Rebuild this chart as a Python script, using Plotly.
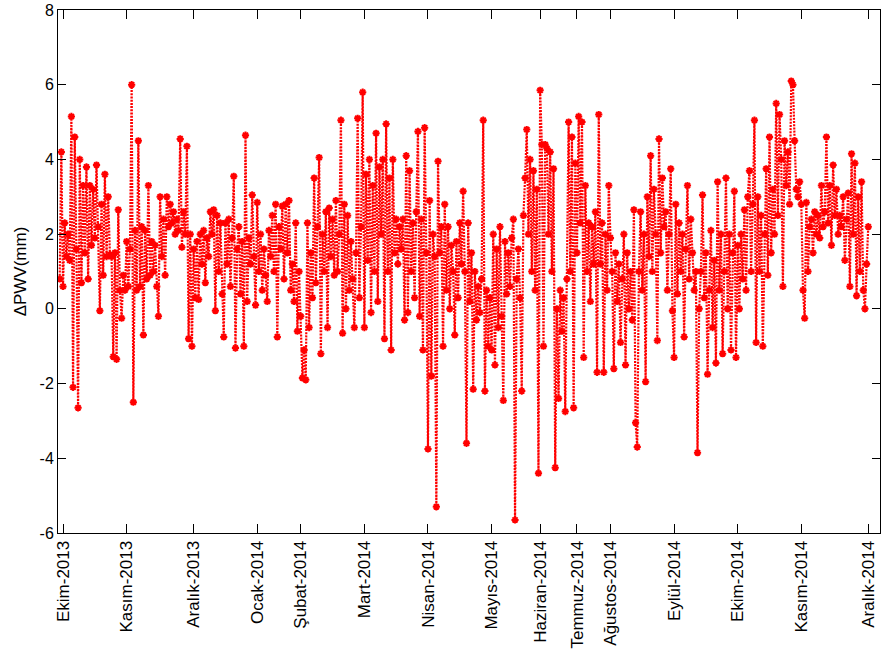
import plotly.graph_objects as go

# Delta PWV (mm) values, grouped by the month they fall in
pre_oct_2013 = [0.8, 4.2]
ekim_2013 = [0.6, 2.3, 1.4, 2.0, 1.3, 5.15, -2.1, 4.6, 1.6, -2.65, 4.0, 0.7, 3.3, 1.5, 3.8, 0.8, 3.3, 1.7, 3.2,
             1.9, 3.85, 2.2, -0.05, 2.8, 0.9, 3.6, 1.4, 3.0, 1.45, 1.4, -1.28, 1.5, -1.35, 2.65, 0.5, -0.25, 0.9, 0.5]
kasim_2013 = [1.8, 0.6, 1.6, 6.0, -2.5, 2.1, 0.5, 4.5, 0.6, 2.2, -0.7, 2.1, 0.8, 3.3, 0.9, 1.8, 1.0, 1.7, 0.6, -0.2,
              3.0, 1.4, 2.4, 0.9, 3.0, 2.2, 2.8, 2.3, 2.6, 2.0, 2.4, 2.1, 4.55, 1.65, 2.6, 2.0, 4.35, -0.8, 2.0, -1.0]
aralik_2013 = [1.6, 0.3, 1.8, 0.25, 2.0, 1.2, 2.1, 0.7, 1.9, 1.4, 2.6, 2.0, 2.65, -0.05, 2.5, 1.0, 2.3, 0.4, -0.75,
               2.3, 1.2, 2.4, 0.6, 1.9, 3.55, -1.05, 1.6, 2.2, 0.4, 1.8, -1.0, 4.65, 0.2, 1.9, 1.2, 3.05, 1.4, 0.1]
ocak_2014 = [2.85, 1.0, 2.0, 0.5, 1.6, 0.9, 0.2, 2.1, 1.4, 2.5, 1.0, 2.8, -0.75, 2.2, 1.6, 2.75, 0.8, 2.8, 1.5,
             2.9, 0.5, 1.2, 0.2, 2.3, -0.6, 1.0]
subat_2014 = [-0.2, -1.85, -1.1, -1.9, 2.3, -0.5, 1.5, 0.3, 3.5, 0.7, 2.2, 4.05, -1.2, 2.0, 1.0, 2.6, -0.5, 2.7,
              1.4, 2.4, 0.9, 2.9, 1.0, 2.0, 5.05, -0.65, 2.8, 0.0, 2.5, 0.5, 1.8, 0.8, -0.5, 1.5, 5.1, 0.3, 2.2, 5.8]
mart_2014 = [-0.5, 3.6, 1.3, 4.0, -0.1, 3.3, 1.0, 4.7, 0.2, 3.8, 2.0, 4.0, -0.8, 4.95, 1.0, 3.5, -1.1, 4.0, 1.5,
             2.4, 1.2, 2.2, 1.6, 2.4, -0.3, 4.1, -0.1, 3.7, 1.0, 2.3, 0.3, 2.6, 4.75, -0.2, 2.4, -1.1, 4.85, 1.5]
nisan_2014 = [-3.75, 2.9, -1.8, 2.0, 1.4, -5.3, 3.95, 1.5, 2.2, -1.0, 2.8, 0.5, 2.2, 0.0, 1.7, 1.0, -0.7, 1.8,
              0.3, 2.3, 1.2, 3.15, 1.0, -3.6, 2.3, 0.2, 1.5, -2.15, 1.0, -0.3, 0.6, -0.1, 0.8, 5.05, -2.2, 0.5,
              -1.0, 0.3]
mayis_2014 = [-1.1, 2.0, -1.5, 1.6, -0.5, 2.2, -0.2, -2.45, 1.8, 0.4, 1.5, 0.6, 1.9, 2.4, -5.65, 0.8, 1.6, 0.3,
              -2.2, 2.5, 3.5, 4.8, 2.0, 4.0, 1.0, 3.7, 0.5, 3.2, -4.4]
haziran_2014 = [5.85, 4.4, -1.0, 4.4, 4.3, 2.0, 4.2, 1.0, 3.75, -4.25, 0.0, -2.4, 0.5, -0.6, 0.3, -2.75, 0.8,
                5.0, 1.0, 4.6, -2.65, 3.9]
temmuz_2014 = [1.5, 5.15, 2.3, 5.0, -1.3, 3.3, 1.0, 2.3, 0.2, 2.2, 1.2, 2.6, -1.7, 5.2, 1.2, 2.3, -1.7, 2.0,
               0.5, 3.3]
agustos_2014 = [1.9, 1.0, -1.6, 1.5, 0.2, 1.2, -0.9, 0.8, 2.0, -1.5, 1.5, 0.0, 1.0, -0.3, 2.65, -3.05, -3.7,
                1.0, 2.6, 0.5, 2.0, -1.95, 3.0, 1.4, 4.1, 1.0, 3.2, 2.0, -0.85, 4.55, 1.5, 3.5, 2.2, 2.6, 0.5,
                2.0, 3.75, -0.05]
eylul_2014 = [-1.3, 2.8, 0.4, 2.3, 1.0, 2.0, -0.75, 1.6, 3.3, 0.8, 2.4, 1.5, 0.5, 1.0, -3.85, 0.0, 1.0, 3.05,
              0.3, 1.5, -1.75, 0.5, 2.1, -0.5, 1.3, -1.45, 3.4, 0.5, 2.0, -1.2, 1.0, 3.5, 0.0, 2.0, -1.1, 1.5,
              3.15, -1.3]
ekim_2014 = [1.7, 0.0, 2.0, 0.8, 2.65, 0.5, 3.0, 3.7, 1.0, 2.8, 5.05, -0.9, 3.0, 1.0, 2.5, -1.0, 2.0, 3.75,
             0.9, 4.6, 1.5, 3.2, 2.0, 5.5, 2.5, 5.2, 4.0, 0.6, 4.5, 3.3, 4.2, 2.8, 6.1, 6.0, 4.5, 3.2, 3.0, 3.4]
kasim_2014 = [2.8, 0.5, -0.25, 2.85, 1.0, 2.2, 2.4, 1.5, 2.6, 2.0, 2.5, 1.9, 3.3, 2.2, 2.6, 4.6, 2.3, 3.3, 1.7,
              3.85, 2.5, 3.2, 2.0, 2.5, 2.2, 3.0, 1.3, 2.4, 3.1, 0.6, 4.15, 2.0, 3.9, 0.35, 3.0, 1.0, 3.4, 0.5,
              0.0, 1.2]
aralik_2014 = [2.2]

month_labels = ["Ekim-2013", "Kasım-2013", "Aralık-2013", "Ocak-2014", "Şubat-2014", "Mart-2014",
                "Nisan-2014", "Mayıs-2014", "Haziran-2014", "Temmuz-2014", "Ağustos-2014", "Eylül-2014",
                "Ekim-2014", "Kasım-2014", "Aralık-2014"]
months = [ekim_2013, kasim_2013, aralik_2013, ocak_2014, subat_2014, mart_2014, nisan_2014, mayis_2014,
          haziran_2014, temmuz_2014, agustos_2014, eylul_2014, ekim_2014, kasim_2014, aralik_2014]
y_ticks = [-6, -4, -2, 0, 2, 4, 6, 8]

values = list(pre_oct_2013)
tick_idx = []
for m in months:
    tick_idx.append(len(values))
    values.extend(m)
x = list(range(len(values)))

fig = go.Figure()
fig.add_trace(go.Scatter(
    x=x, y=values, mode="lines+markers",
    line=dict(color="#ff0000", width=2.2, dash="2px,1.2px"),
    marker=dict(symbol="asterisk-open", size=6, color="#ff0000",
                line=dict(color="#ff0000", width=2)),
    showlegend=False, hoverinfo="skip"))

font = "Arial, Liberation Sans, sans-serif"
fig.update_layout(
    width=881, height=654,
    margin=dict(l=58, r=1, t=10, b=121),
    paper_bgcolor="white", plot_bgcolor="white",
    font=dict(family=font, size=16, color="#000"),
)
fig.update_xaxes(
    range=[-1, 490], tickmode="array", tickvals=tick_idx, ticktext=month_labels,
    tickangle=-90, ticks="inside", ticklen=9, tickcolor="#000", tickwidth=1,
    showline=True, linecolor="#000", linewidth=1, mirror="ticks",
    showgrid=False, zeroline=False, tickfont=dict(size=17, family=font))
fig.update_yaxes(
    range=[-6, 8], tickmode="array", tickvals=y_ticks, ticktext=[str(v) for v in y_ticks],
    ticks="inside", ticklen=8, tickcolor="#000", tickwidth=1,
    showline=True, linecolor="#000", linewidth=1, mirror="ticks",
    showgrid=False, zeroline=False, tickfont=dict(size=16, family=font),
    title=dict(text="ΔPWV(mm)", font=dict(size=17, family=font), standoff=8))

fig.write_html("out.html")
